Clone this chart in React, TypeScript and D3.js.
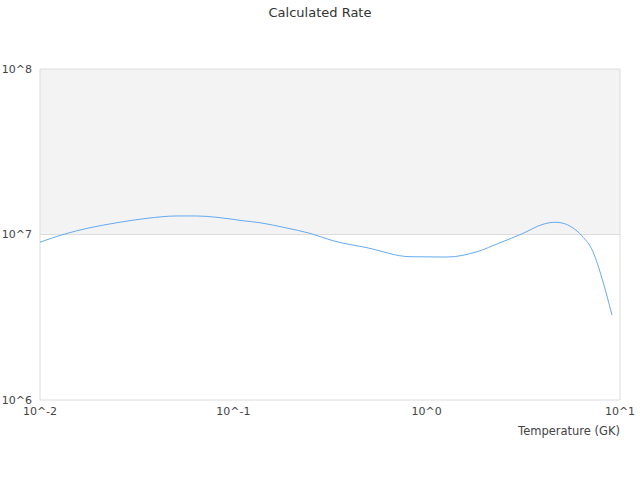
import * as d3 from "d3";

// temperature (GK) and calculated rate
const temperatures = [
  0.01, 0.01315, 0.01815, 0.025, 0.0358, 0.0512, 0.0649, 0.0823, 0.1122, 0.1374,
  0.185, 0.2493, 0.3278, 0.4913, 0.82, 1.274, 1.821, 2.394, 3.15, 3.998, 4.611, 5.073,
  5.645, 6.361, 7.25, 8.071, 9.09,
];
const rates = [
  8.98e6, 1.0e7, 1.099e7, 1.178e7, 1.253e7, 1.294e7, 1.294e7, 1.27e7, 1.211e7, 1.178e7,
  1.1e7, 1.016e7, 9.17e6, 8.32e6, 7.34e6, 7.31e6, 7.87e6, 8.91e6, 1.016e7, 1.153e7, 1.186e7,
  1.17e7, 1.105e7, 9.8e6, 7.87e6, 5.43e6, 3.26e6,
];
const xTicks = [0.01, 0.1, 1, 10];
const xTickLabels = ["10^-2", "10^-1", "10^0", "10^1"];
const yTicks = [1e6, 1e7, 1e8];
const yTickLabels = ["10^6", "10^7", "10^8"];

const W = 640;
const H = 480;
const margin = { top: 69, right: 20, bottom: 80, left: 40 };
const font = "DejaVu Sans, sans-serif";

export default function App() {
  const x = d3.scaleLog().domain([0.01, 10]).range([margin.left, W - margin.right]);
  const y = d3.scaleLog().domain([1e6, 1e8]).range([H - margin.bottom, margin.top]);

  const pts = temperatures.map((t, i) => [t, rates[i]] as [number, number]);
  const line = d3
    .line<[number, number]>()
    .x((d) => x(d[0]))
    .y((d) => y(d[1]))
    .curve(d3.curveMonotoneX);

  const [x0, x1] = x.range();

  return (
    <svg
      width={W}
      height={H}
      style={{ position: "absolute", left: 0, top: 0, background: "#fff" }}
      fontFamily={font}
    >
      {/* alternating band */}
      <rect x={x0} y={y(1e8)} width={x1 - x0} height={y(1e7) - y(1e8)} fill="#f3f3f3" />

      {/* grid + frame */}
      {yTicks.map((t) => (
        <line key={t} x1={x0} x2={x1} y1={y(t)} y2={y(t)} stroke="#dcdcdc" />
      ))}
      <line x1={x0} x2={x0} y1={y(1e8)} y2={y(1e6)} stroke="#dcdcdc" />
      <line x1={x1} x2={x1} y1={y(1e8)} y2={y(1e6)} stroke="#dcdcdc" />

      <path d={line(pts) ?? ""} fill="none" stroke="#64aaf0" strokeWidth={1} />

      {/* y labels */}
      {yTicks.map((t, i) => (
        <text
          key={t}
          x={x0 - 8}
          y={y(t)}
          dy="0.35em"
          textAnchor="end"
          fontSize={11}
          fill="#444"
        >
          {yTickLabels[i]}
        </text>
      ))}

      {/* x labels */}
      {xTicks.map((t, i) => (
        <text
          key={t}
          x={x(t)}
          y={y(1e6) + 11}
          dy="0.35em"
          textAnchor="middle"
          fontSize={11}
          fill="#444"
        >
          {xTickLabels[i]}
        </text>
      ))}

      <text x={x1} y={431} dy="0.35em" textAnchor="end" fontSize={11.5} fill="#444">
        Temperature (GK)
      </text>

      <text x={W / 2} y={12} dy="0.35em" textAnchor="middle" fontSize={13} fill="#333">
        Calculated Rate
      </text>
    </svg>
  );
}
